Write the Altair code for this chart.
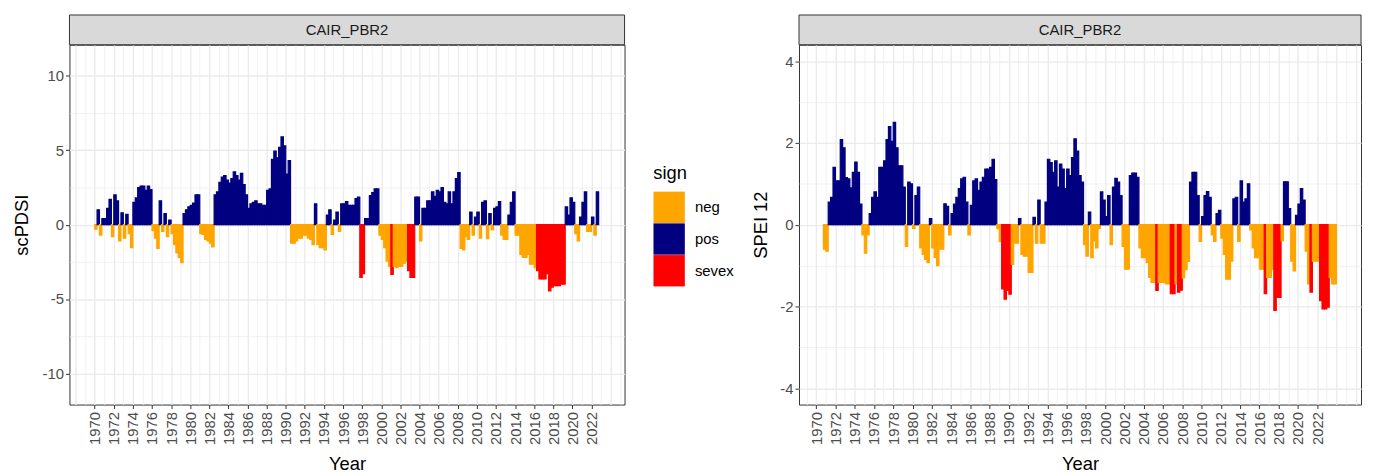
import altair as alt
import pandas as pd

FONT = "Liberation Sans"

# ---------------- data: quarterly values ----------------
# scPDSI, CAIR_PBR2, quarters Q1..Q4 starting 1970 Q1
pdsi_start = 1970.0
pdsi_1970s = [
    -0.3, 1.0, -0.7, 0.4,
    0.4, 1.1, 1.7, -0.8,
    2.0, 1.6, -1.1, 0.8,
    -0.9, 0.7, -0.6, -1.55,
    1.5, 1.8, 2.5, 2.6,
    2.6, 2.3, 2.6, 2.35,
    -0.4, -0.9, -1.6, 1.6,
    -0.45, 0.75, -0.8, 0.3,
    -0.6, -1.35, -1.9, -2.2,
    -2.55, 0.75, 1.0, 1.2,
]
pdsi_1980s = [
    1.3, 1.45, 2.0, 2.0,
    -0.6, -0.65, -1.0, -1.1,
    -1.25, -1.5, 2.0, 2.2,
    2.85, 3.2, 3.3, 3.0,
    2.8, 3.1, 3.55, 3.3,
    3.0, 3.45, 2.7, 2.0,
    1.1, 1.4, 1.5, 1.6,
    1.4, 1.4, 1.3, 1.3,
    2.3, 2.4, 4.4, 4.95,
    4.5, 5.2, 5.9, 5.3,
]
pdsi_1990s = [
    3.4, 4.3, -1.25, -1.25,
    -1.1, -0.9, -0.9, -0.7,
    -0.7, -0.9, -1.0, -1.35,
    1.4, -1.35, -1.55, -1.55,
    -1.7, 0.65, 1.0, -0.65,
    0.3, 0.85, -0.45, 1.4,
    1.4, 1.55, 1.3, 1.3,
    1.3, 1.75, 1.85, -3.55,
    -3.3, 0.4, 0.4, 1.95,
    2.15, 2.4, 2.4, -0.7,
]
pdsi_2000s = [
    -1.0, -1.55, -2.45, -2.8,
    -3.35, -2.8, -2.9, -2.8,
    -2.8, -2.6, -2.45, -3.1,
    -3.55, -3.55, 1.85, 1.85,
    -1.1, 1.1, 1.1, 1.6,
    1.6, 2.2, 1.9, 2.3,
    2.2, 2.5, 1.5, 1.4,
    2.2, 1.4, 2.2, 3.1,
    3.5, -1.6, -1.7, -0.8,
    -1.0, 0.85, -0.7, 0.5,
]
pdsi_2010s = [
    0.85, -0.9, 1.5, 1.6,
    -0.95, 0.75, -0.35, 1.1,
    1.2, 1.55, -0.7, -1.0,
    -1.0, 0.65, 1.5, 2.2,
    -0.7, -0.7, -2.0, -2.2,
    -2.2, -2.0, -2.65, -2.65,
    -2.9, -3.1, -3.65, -3.65,
    -3.65, -3.3, -4.45, -4.2,
    -4.1, -4.1, -4.1, -4.0,
    -4.0, 1.2, 0.65, 1.8,
]
pdsi_2020s = [
    1.5, -0.6, -1.1, 0.5,
    1.5, 2.2, -0.45, -0.45,
    0.5, -0.7, 2.2,
]
pdsi_sevex_below = -3.0

# SPEI 12, CAIR_PBR2, quarters starting 1970 Q4
spei_start = 1970.75
spei_1970s = [
    -0.6,
    -0.65, 0.55, 0.67, 1.4,
    1.07, 1.07, 2.08, 1.88,
    1.15, 1.12, 0.9, 1.28,
    1.53, 1.28, 0.5, -0.25,
    -0.7, -0.25, 0.27, 0.67,
    0.8, 0.67, 1.4, 1.4,
    1.56, 2.08, 2.4, 2.04,
    2.5, 1.88, 1.44, 1.44,
    0.92, -0.53, 1.04, 1.0,
]
spei_1980s = [
    -0.09, 0.71, 0.92, -0.57,
    -0.73, -0.85, -0.93, 0.15,
    -0.57, -0.8, -1.0, -0.6,
    -0.6, 0.51, 0.45, -0.25,
    0.27, 0.5, 0.67, 0.88,
    1.12, 1.16, 0.55, -0.25,
    0.47, 1.07, 1.12, 0.84,
    1.04, 1.16, 1.36, 1.36,
    1.4, 1.6, 1.1, -0.1,
    -0.41, -1.57, -1.82, -1.61,
]
spei_1990s = [
    -1.7, -0.97, -0.45, -0.45,
    0.15, -0.73, -0.77, -0.77,
    -1.17, -1.17, 0.18, -0.45,
    0.6, -0.45, -0.45, 0.55,
    1.6, 1.52, 1.28, 1.56,
    0.92, 1.48, 1.36, 0.88,
    1.36, 1.2, 1.64, 2.1,
    1.8, 1.2, 1.04, -0.49,
    -0.77, 0.31, -0.81, -0.4,
    -0.57, -0.09, 0.8, 0.6,
]
spei_2000s = [
    0.2, 0.71, -0.49, 0.92,
    1.13, 1.04, 0.71, -0.53,
    -1.09, -1.09, 1.2, 1.26,
    1.26, 1.16, -0.57, -0.81,
    -0.81, -0.93, -1.29, -1.41,
    -1.41, -1.61, -1.41, -1.41,
    -1.41, -1.45, -1.45, -1.69,
    -1.69, -1.45, -1.65, -1.6,
    -1.3, -1.1, -0.9, 1.04,
    1.28, 1.28, 0.71, -0.41,
]
spei_2010s = [
    0.2, 0.71, 0.81, 0.67,
    -0.25, -0.41, 0.27, 0.35,
    -0.33, -0.73, -1.33, -1.33,
    -0.89, 0.63, 0.67, -0.41,
    1.07, 0.55, 0.63, 1.0,
    -0.13, -0.57, -0.81, -0.81,
    -1.09, -1.09, -1.69, -1.29,
    -1.29, -1.09, -2.1, -1.78,
    -1.78, -0.4, 1.05, 1.05,
    0.39, -0.89, -1.13, 0.23,
]
spei_2020s = [
    0.5, 0.88, 0.6, -0.65,
    -1.45, -1.65, -0.89, -0.89,
    -0.89, -1.86, -2.06, -2.06,
    -2.02, -1.29, -1.45, -1.45,
]
spei_sevex_below = -1.5

quarter = 0.25
station = "CAIR_PBR2"
sign_names = ["neg", "pos", "sevex"]
sign_colors = ["#FFA500", "#000080", "#FF0000"]

pdsi_axis_values = [-10, -7.5, -5, -2.5, 0, 2.5, 5, 7.5, 10]
spei_axis_values = [-4, -3, -2, -1, 0, 1, 2, 3, 4]
pdsi_y_domain = [-12.1, 12.1]
spei_y_domain = [-4.4, 4.4]
pdsi_x_domain = [1967.36, 2025.46]
spei_x_domain = [1968.22, 2026.55]
pdsi_years = list(range(1968, 2026))
spei_years = list(range(1969, 2027))
first_label_year, last_label_year = 1970, 2022


def build(chunks, start, threshold):
    vals = [v for c in chunks for v in c]
    rows = []
    for i, v in enumerate(vals):
        s = start + quarter * i
        if v > 0:
            sg = "pos"
        elif v < threshold:
            sg = "sevex"
        else:
            sg = "neg"
        rows.append({"start": s, "end": s + quarter, "value": v, "sign": sg})
    return pd.DataFrame(rows)


pdsi_df = build([pdsi_1970s, pdsi_1980s, pdsi_1990s, pdsi_2000s, pdsi_2010s, pdsi_2020s],
                pdsi_start, pdsi_sevex_below)
spei_df = build([spei_1970s, spei_1980s, spei_1990s, spei_2000s, spei_2010s, spei_2020s],
                spei_start, spei_sevex_below)
strip_df = pd.DataFrame({"label": [station]})

color_scale = alt.Scale(domain=sign_names, range=sign_colors)

PANEL_H = 363
STRIP_H = 30
TICK_FS = 15
TITLE_FS = 18.5


def x_axis(years):
    major = f"datum.value % 2 == 0 && datum.value >= {first_label_year} && datum.value <= {last_label_year}"
    return alt.Axis(
        values=years,
        labelExpr=f"({major}) ? toString(datum.value) : ''",
        labelAngle=270, labelAlign="right", labelBaseline="middle",
        labelPadding=3, labelOverlap=False, labelFlush=False,
        tickOpacity={"condition": {"test": major, "value": 1}, "value": 0},
        gridWidth={"condition": {"test": "datum.value % 2 == 0", "value": 1.4}, "value": 0.7},
        titlePadding=10, zindex=0,
    )


def y_axis(values, step, title_pad):
    major = f"datum.value % {step} == 0"
    return alt.Axis(
        values=values,
        labelExpr=f"({major}) ? toString(datum.value) : ''",
        labelPadding=2,
        tickOpacity={"condition": {"test": major, "value": 1}, "value": 0},
        gridWidth={"condition": {"test": major, "value": 1.4}, "value": 0.7},
        titlePadding=title_pad, zindex=0,
    )


def panel(df, ytitle, xdom, years, ydom, yvals, ystep, ytp, width, legend):
    bars = alt.Chart(df).mark_rect(strokeWidth=1.2, strokeOpacity=1).encode(
        x=alt.X("start:Q", title="Year",
                scale=alt.Scale(domain=xdom, nice=False, zero=False), axis=x_axis(years)),
        x2="end:Q",
        y=alt.Y("value:Q", title=ytitle,
                scale=alt.Scale(domain=ydom, nice=False, zero=False),
                axis=y_axis(yvals, ystep, ytp)),
        y2=alt.datum(0),
        color=alt.Color("sign:N", scale=color_scale, legend=legend),
        stroke=alt.Stroke("sign:N", scale=color_scale, legend=None),
    )
    strip_bg = alt.Chart(strip_df).mark_rect(
        fill="#D9D9D9", stroke="#333333", strokeWidth=1
    ).encode(x=alt.value(0), x2=alt.value(width), y=alt.value(-STRIP_H), y2=alt.value(0))
    strip_tx = alt.Chart(strip_df).mark_text(
        font=FONT, fontSize=TICK_FS, color="#1A1A1A", baseline="middle"
    ).encode(x=alt.value(width / 2), y=alt.value(-STRIP_H / 2), text="label:N")
    return alt.layer(bars, strip_bg, strip_tx).properties(width=width, height=PANEL_H)


legend = alt.Legend(
    title="sign", orient="none", legendX=589, legendY=120, direction="vertical",
    symbolType="square", symbolSize=1000, symbolStrokeWidth=0, symbolOpacity=1,
    rowPadding=0, labelOffset=10, titlePadding=9.5, padding=0,
    labelFont=FONT, labelFontSize=TICK_FS, labelColor="#000000",
    titleFont=FONT, titleFontSize=TITLE_FS, titleFontWeight="normal", titleColor="#000000",
)

left = panel(pdsi_df, "scPDSI", pdsi_x_domain, pdsi_years, pdsi_y_domain,
             pdsi_axis_values, 5, 10.4, 560, legend)
right = panel(spei_df, "SPEI 12", spei_x_domain, spei_years, spei_y_domain,
              spei_axis_values, 2, 9.2, 567, None)

chart = alt.hconcat(left, right, spacing=15).resolve_scale(
    x="independent", y="independent", color="independent", stroke="independent"
).properties(
    padding={"left": 4, "top": 4, "right": 0, "bottom": 0}
).configure(font=FONT).configure_axis(
    labelFont=FONT, labelFontSize=TICK_FS, labelColor="#4D4D4D",
    titleFont=FONT, titleFontSize=TITLE_FS, titleFontWeight="normal", titleColor="#000000",
    tickColor="#333333", tickWidth=1, tickSize=4, domain=False, gridColor="#EBEBEB",
).configure_view(stroke="#333333", strokeWidth=1)

chart.save("out.html", embed_options={"renderer": "svg", "actions": False})
